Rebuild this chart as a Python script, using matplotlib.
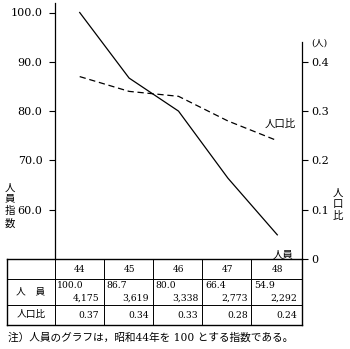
import matplotlib
matplotlib.use('Agg')
import matplotlib.pyplot as plt
from matplotlib.lines import Line2D
import matplotlib.transforms as mtransforms

plt.rcParams['font.family'] = ['DejaVu Serif', 'Noto Sans CJK JP']
plt.rcParams['font.size'] = 8

years = [44, 45, 46, 47, 48]
index_vals = [100.0, 86.7, 80.0, 66.4, 54.9]
staff = ['4,175', '3,619', '3,338', '2,773', '2,292']
ratio = [0.37, 0.34, 0.33, 0.28, 0.24]

W, H = 350, 349
fig = plt.figure(figsize=(W / 100, H / 100), dpi=100)
fig.patch.set_facecolor('white')

def fy(p):
    return 1 - p / H

# main axes: x 55..302 px, y 3..259 px
ax = fig.add_axes([55 / W, fy(259), 247 / W, (259 - 3) / H])
ax.set_xlim(43.5, 48.5)
ax.set_ylim(50, 50 + 256 / 49.3 * 10)
ax.plot(years, index_vals, color='black', lw=0.9)
ax.set_yticks([60, 70, 80, 90, 100])
ax.set_yticklabels(['60.0', '70.0', '80.0', '90.0', '100.0'])
ax.set_xticks([])
ax.tick_params(axis='y', direction='out', length=4, width=0.8, pad=5, labelsize=8)
for s in ['top', 'right', 'bottom']:
    ax.spines[s].set_visible(False)
ax.spines['left'].set_linewidth(0.9)
ax.patch.set_alpha(0)

ax2 = ax.twinx()
ax2.set_ylim(0, 256 / 493)
ax2.plot(years, ratio, color='black', lw=0.9, ls=(0, (5, 3)))
ax2.set_yticks([0, 0.1, 0.2, 0.3, 0.4])
ax2.set_yticklabels(['0', '0.1', '0.2', '0.3', '0.4'])
ax2.tick_params(axis='y', direction='out', length=4, width=0.8, pad=3, labelsize=8)
for s in ['top', 'left', 'bottom']:
    ax2.spines[s].set_visible(False)
ax2.spines['right'].set_bounds(0, 0.44)
ax2.spines['right'].set_linewidth(0.9)
ax2.get_yticklabels()[0].set_y(-0.008)

ax2.text(years[-1] + 0.06, ratio[-1] + 0.035, '人口比', fontsize=7.5, ha='center', va='center')
ax.text(years[-1] + 0.12, index_vals[-1] - 4.2, '人員', fontsize=7.5, ha='center', va='center')

fig.text(10 / W, fy(206), '人\n員\n指\n数', fontsize=7.5, ha='center', va='center', linespacing=1.3)
fig.text(338 / W, fy(205), '人\n口\n比', fontsize=7.5, ha='center', va='center', linespacing=1.3)
fig.text(319 / W, fy(43), '(人)', fontsize=6.5, ha='center', va='center')

# table
tr = mtransforms.blended_transform_factory(ax.transData, fig.transFigure)
rows = [259, 279, 305, 325]
for i, r in enumerate(rows):
    lw = 1.0 if i in (0, 3) else 0.7
    fig.add_artist(Line2D([7 / W, 302 / W], [fy(r), fy(r)], color='black', lw=lw, transform=fig.transFigure))
for c in [7, 55, 104, 153, 202, 251, 302]:
    lw = 1.0 if c in (7, 302) else 0.7
    fig.add_artist(Line2D([c / W, c / W], [fy(259), fy(325)], color='black', lw=lw, transform=fig.transFigure))

for y, v, s, r in zip(years, index_vals, staff, ratio):
    fig.text(y, fy(269), str(y), transform=tr, fontsize=6.5, ha='center', va='center')
    fig.text(y - 0.46, fy(285), '%.1f' % v, transform=tr, fontsize=6.7, ha='left', va='center')
    fig.text(y + 0.4, fy(298), s, transform=tr, fontsize=6.7, ha='right', va='center')
    fig.text(y + 0.4, fy(315), '%.2f' % r, transform=tr, fontsize=6.7, ha='right', va='center')

fig.text(31 / W, fy(292), '人　員', fontsize=7, ha='center', va='center')
fig.text(31 / W, fy(315), '人口比', fontsize=7, ha='center', va='center')

fig.text(8 / W, fy(338), '注）人員のグラフは，昭和44年を 100 とする指数である。', fontsize=7.7, ha='left', va='center')

fig.savefig('out.png', dpi=100)
